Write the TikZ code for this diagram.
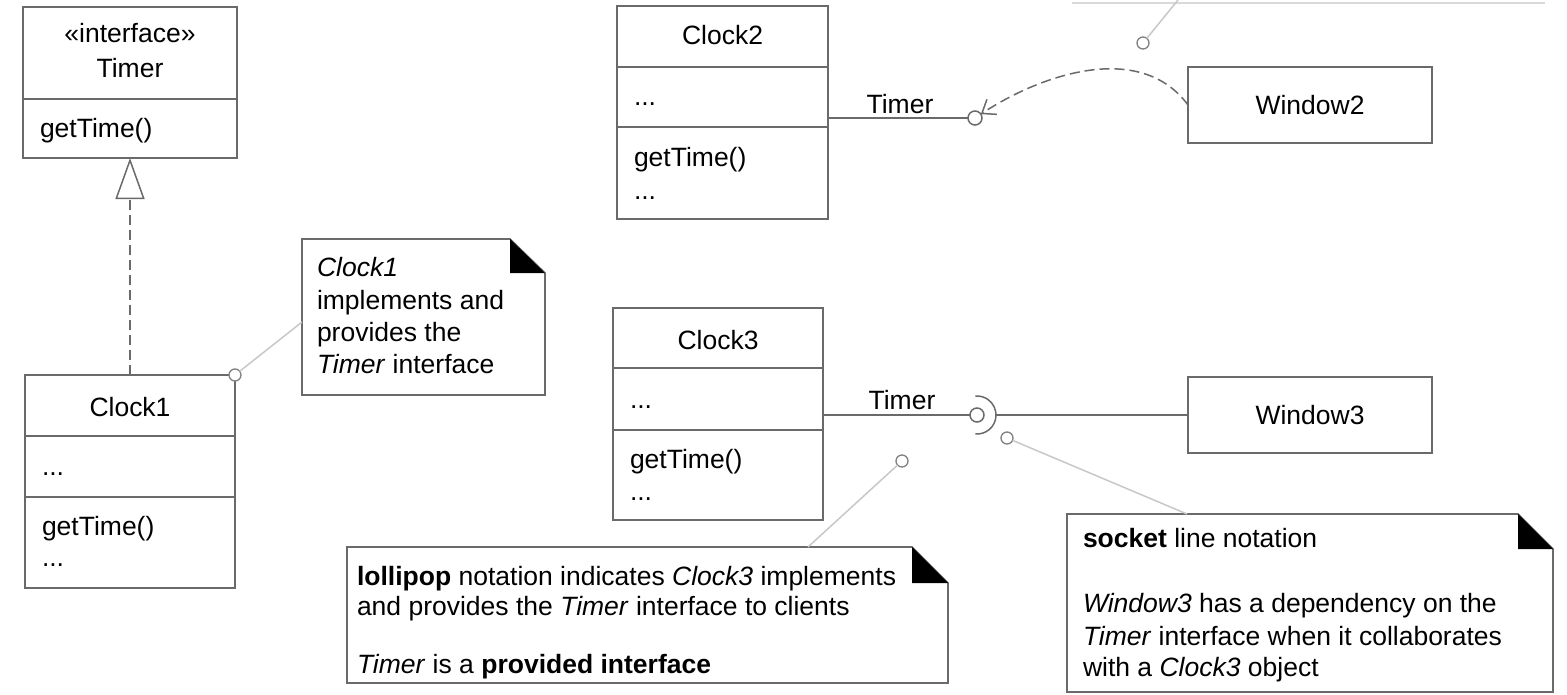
\documentclass[tikz,border=0pt]{standalone}
\usepackage{fontspec}
\setmainfont{Liberation Sans}
\usetikzlibrary{arrows.meta,calc}
\definecolor{boxgray}{HTML}{6A6A6A}
\definecolor{notelink}{HTML}{C8C8C8}
\begin{document}
\begin{tikzpicture}[x=1pt,y=-1pt,
  every node/.style={font=\fontsize{26.5}{32}\selectfont, text=black},
  cls/.style={draw=boxgray, line width=1.6pt, inner sep=0pt, outer sep=0pt, fill=white},
  clsline/.style={draw=boxgray, line width=1.6pt},
  txt/.style={inner sep=0pt, outer sep=0pt, anchor=base},
  ltxt/.style={inner sep=0pt, outer sep=0pt, anchor=base west},
  mypin/.style={circle, draw=boxgray!85, line width=1.3pt, minimum size=12pt, inner sep=0pt, outer sep=0pt, fill=white},
  lolli/.style={circle, draw=boxgray, line width=1.5pt, minimum size=14pt, inner sep=0pt, outer sep=0pt, fill=white},
  mylink/.style={draw=notelink, line width=1.5pt},
  conn/.style={draw=boxgray, line width=1.5pt},
  notebox/.style={inner sep=0pt, outer sep=0pt},
  notedraw/.style={draw=boxgray, line width=1.6pt, fill=white},
  dashedline/.style={dash pattern=on 10pt off 5pt}
]
\fill[white] (0,0) rectangle (1567,694);
\useasboundingbox (0,0) rectangle (1567,694);

% faint bottom edge of a cropped note at the top
\coordinate (topa) at (1072,3);
\coordinate (topb) at (1545,3);
\draw[draw=notelink!70, line width=1.2pt] (topa) -- (topb);

% ---------- Timer interface ----------
\node[cls, minimum width=214pt, minimum height=151pt] (timer) at (130,82.5) {};
\draw[clsline] (23,99) -- (237,99);
\node[txt] (timerst) at (130,42) {«interface»};
\node[txt] (timername) at (130,77) {Timer};
\node[ltxt] (timerop) at (40,137) {getTime()};

% ---------- Clock1 ----------
\node[cls, minimum width=210pt, minimum height=213pt] (clock1) at (130,481.5) {};
\draw[clsline] (25,436) -- (235,436);
\draw[clsline] (25,497) -- (235,497);
\node[txt] (c1name) at (130,416) {Clock1};
\node[ltxt] (c1attr) at (42,475) {...};
\node[ltxt] (c1op) at (42,535) {getTime()};
\node[ltxt] (c1more) at (42,566) {...};

\draw[conn, dashedline, -{Triangle[open, length=41pt, width=29pt, line width=1.5pt, fill=white]}] (clock1.north) -- (timer.south);

% ---------- Clock2 ----------
\node[cls, minimum width=211pt, minimum height=213pt] (clock2) at (722.5,112.5) {};
\draw[clsline] (617,67) -- (828,67);
\draw[clsline] (617,127) -- (828,127);
\node[txt] (c2name) at (722.5,44) {Clock2};
\node[ltxt] (c2attr) at (634,105) {...};
\node[ltxt] (c2op) at (634,166) {getTime()};
\node[ltxt] (c2more) at (634,199) {...};

\node[lolli] (l2) at (975,118) {};
\draw[conn] (clock2.east |- l2) -- (l2);
\node[txt] (t2lab) at (900,113) {Timer};

% ---------- Clock3 ----------
\node[cls, minimum width=210pt, minimum height=212pt] (clock3) at (718,414) {};
\draw[clsline] (613,368) -- (823,368);
\draw[clsline] (613,430) -- (823,430);
\node[txt] (c3name) at (718,349) {Clock3};
\node[ltxt] (c3attr) at (630,408) {...};
\node[ltxt] (c3op) at (630,468) {getTime()};
\node[ltxt] (c3more) at (630,500) {...};

\node[lolli] (l3) at (977,415) {};
\draw[conn] (clock3.east |- l3) -- (l3);
\node[txt] (t3lab) at (902,409) {Timer};

% ---------- Windows ----------
\node[cls, minimum width=244pt, minimum height=76pt] (w2) at (1310,105) {Window2};
\node[cls, minimum width=244pt, minimum height=76pt] (w3) at (1310,415) {Window3};

% socket
\draw[conn] (l3.center) ++(95:19) arc[start angle=95, end angle=-95, radius=19];
\coordinate (sock) at (996,415);
\draw[conn] (sock) -- (w3.west);

% dependency Window2 -> lollipop
\draw[conn, dashedline, -{Straight Barb[length=12pt, width=18pt, line width=1.5pt]}]
  (w2.west) .. controls (1140,40) and (1040,75) .. (l2);

% ---------- Notes ----------
\node[notebox, minimum width=243pt, minimum height=156pt] (note1) at (423.5,317) {};
\draw[notedraw] (note1.north west) -- ($(note1.north east)+(-35pt,0pt)$) -- ($(note1.north east)+(0pt,-34pt)$) -- (note1.south east) -- (note1.south west) -- cycle;
\fill[black] ($(note1.north east)+(-35pt,0pt)$) -- ($(note1.north east)+(-35pt,-34pt)$) -- ($(note1.north east)+(0pt,-34pt)$) -- cycle;
\node[ltxt] (n1a) at (317,276) {\textit{Clock1}};
\node[ltxt] (n1b) at (317,309) {implements and};
\node[ltxt] (n1c) at (317,341) {provides the};
\node[ltxt] (n1d) at (317,373) {\textit{Timer} interface};

\node[notebox, minimum width=601pt, minimum height=136pt] (note2) at (647.5,615) {};
\draw[notedraw] (note2.north west) -- ($(note2.north east)+(-36pt,0pt)$) -- ($(note2.north east)+(0pt,-36pt)$) -- (note2.south east) -- (note2.south west) -- cycle;
\fill[black] ($(note2.north east)+(-36pt,0pt)$) -- ($(note2.north east)+(-36pt,-36pt)$) -- ($(note2.north east)+(0pt,-36pt)$) -- cycle;
\node[ltxt] (n2a) at (357,585) {\textbf{lollipop} notation indicates \textit{Clock3} implements};
\node[ltxt] (n2b) at (357,615) {and provides the \textit{Timer} interface to clients};
\node[ltxt] (n2c) at (357,673) {\textit{Timer} is a \textbf{provided interface}};

\node[notebox, minimum width=486pt, minimum height=178pt] (note3) at (1310,603) {};
\draw[notedraw] (note3.north west) -- ($(note3.north east)+(-35pt,0pt)$) -- ($(note3.north east)+(0pt,-35pt)$) -- (note3.south east) -- (note3.south west) -- cycle;
\fill[black] ($(note3.north east)+(-35pt,0pt)$) -- ($(note3.north east)+(-35pt,-35pt)$) -- ($(note3.north east)+(0pt,-35pt)$) -- cycle;
\node[ltxt] (n3a) at (1083,547) {\textbf{socket} line notation};
\node[ltxt] (n3b) at (1083,612) {\textit{Window3} has a dependency on the};
\node[ltxt] (n3c) at (1083,645) {\textit{Timer} interface when it collaborates};
\node[ltxt] (n3d) at (1083,676) {with a \textit{Clock3} object};

% ---------- note anchors ----------
\coordinate (n1p) at (302,322);
\coordinate (n2p) at (808,547);
\coordinate (n3p) at (1187,514);
\coordinate (n4p) at (1178,0);
\node[mypin] (p1) at (235,375) {};
\node[mypin] (p2) at (902,461) {};
\node[mypin] (p3) at (1007,438) {};
\node[mypin] (p4) at (1143,43) {};
\draw[mylink] (p1) -- (n1p);
\draw[mylink] (p2) -- (n2p);
\draw[mylink] (p3) -- (n3p);
\draw[mylink] (p4) -- (n4p);
\end{tikzpicture}
\end{document}
